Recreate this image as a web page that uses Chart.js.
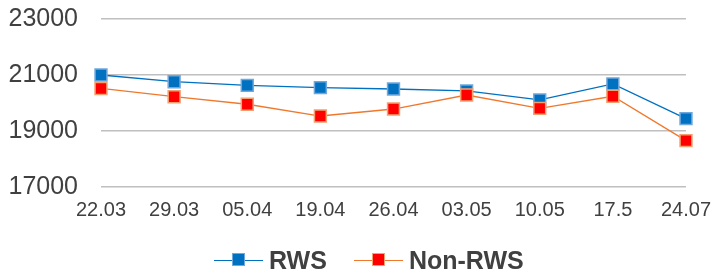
<!DOCTYPE html>
<html>
<head>
<meta charset="utf-8">
<script src="https://cdn.jsdelivr.net/npm/chart.js@4/dist/chart.umd.min.js"></script>
<style>
  html, body { margin: 0; padding: 0; background: #fff; }
  #wrap { position: relative; width: 713px; height: 271px; overflow: hidden; }
  #c { position: absolute; left: 0; top: 0; }
  #legend { position: absolute; left: 214px; top: 248px; display: flex; align-items: center;
            font-family: "Liberation Sans", Arial, sans-serif; font-weight: bold; font-size: 25px;
            line-height: 24px; color: #404040; white-space: nowrap; }
  .item { display: flex; align-items: center; }
  .sym { position: relative; width: 49px; height: 14px; margin-right: 6px; }
  .sym .ln { position: absolute; left: 0; right: 0; top: 6.5px; height: 1.3px; }
  .sym .sq { position: absolute; left: 18px; top: 0; width: 11px; height: 11px; border: 1.5px solid; }
</style>
</head>
<body>
<div id="wrap">
  <canvas id="c" width="713" height="271"></canvas>
  <div id="legend"></div>
</div>
<script>
const categories = ["22.03", "29.03", "05.04", "19.04", "26.04", "03.05", "10.05", "17.5", "24.07"];
const seriesNames = ["RWS", "Non-RWS"];
const rwsValues = [21000, 20760, 20630, 20550, 20500, 20430, 20110, 20680, 19440];
const nonRwsValues = [20520, 20225, 19955, 19535, 19785, 20285, 19810, 20240, 18655];
const yTicks = [17000, 19000, 21000, 23000];

const styles = [
  { line: "#0070C0", fill: "#0070C0", border: "#6FA8DC" },
  { line: "#F0782D", fill: "#FF0000", border: "#F4A070" }
];

const datasets = [
  { label: seriesNames[0], data: rwsValues, order: 1, s: styles[0] },
  { label: seriesNames[1], data: nonRwsValues, order: 0, s: styles[1] }
].map(d => ({
  label: d.label,
  data: d.data,
  order: d.order,
  borderColor: d.s.line,
  borderWidth: 1.3,
  tension: 0,
  fill: false,
  pointStyle: "rect",
  pointRadius: 8.4,
  pointHoverRadius: 8.4,
  pointBackgroundColor: d.s.fill,
  pointBorderColor: d.s.border,
  pointBorderWidth: 1.5,
  clip: false
}));

new Chart(document.getElementById("c"), {
  type: "line",
  data: { labels: categories, datasets },
  options: {
    responsive: false,
    devicePixelRatio: 1,
    animation: false,
    layout: { padding: { left: 8, top: 19, right: 27, bottom: 0 } },
    plugins: { legend: { display: false }, tooltip: { enabled: false } },
    scales: {
      x: {
        type: "category",
        offset: false,
        grid: { display: false, drawTicks: false },
        border: { display: false },
        ticks: {
          color: "#404040",
          padding: 11,
          maxRotation: 0,
          autoSkip: false,
          font: { family: "'Liberation Sans', Arial, sans-serif", size: 20 }
        },
        afterFit: (axis) => {
          axis.height = 84;
          axis.paddingLeft = 0;
          axis.paddingRight = 0;
        }
      },
      y: {
        min: yTicks[0],
        max: yTicks[yTicks.length - 1],
        afterBuildTicks: (axis) => { axis.ticks = yTicks.map(v => ({ value: v })); },
        grid: { color: "#BFBFBF", lineWidth: 1.5, drawTicks: false },
        border: { display: false },
        ticks: {
          color: "#404040",
          padding: 23,
          callback: (v) => String(v),
          font: { family: "'Liberation Sans', Arial, sans-serif", size: 25 }
        },
        afterFit: (axis) => {
          axis.width = 93;
          axis.paddingTop = 0;
          axis.paddingBottom = 0;
        }
      }
    }
  }
});

// HTML legend
const legend = document.getElementById("legend");
seriesNames.forEach((name, i) => {
  const item = document.createElement("div");
  item.className = "item";
  if (i > 0) item.style.marginLeft = "27px";
  const sym = document.createElement("div");
  sym.className = "sym";
  const ln = document.createElement("div");
  ln.className = "ln";
  ln.style.background = styles[i].line;
  const sq = document.createElement("div");
  sq.className = "sq";
  sq.style.background = styles[i].fill;
  sq.style.borderColor = styles[i].border;
  sym.appendChild(ln);
  sym.appendChild(sq);
  const txt = document.createElement("span");
  txt.textContent = name;
  item.appendChild(sym);
  item.appendChild(txt);
  legend.appendChild(item);
});
</script>
</body>
</html>
